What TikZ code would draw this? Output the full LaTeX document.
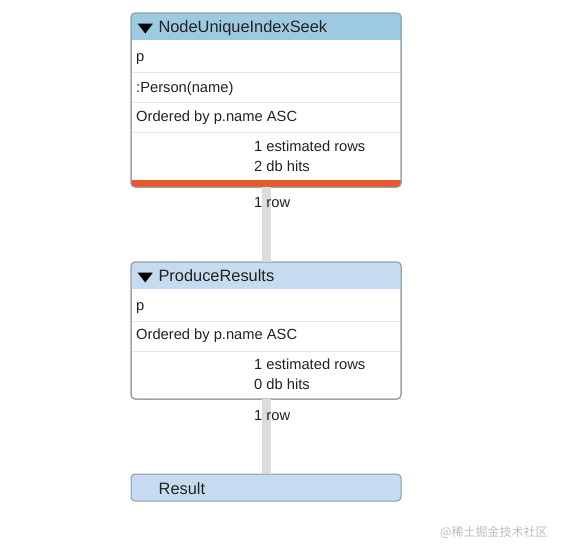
\documentclass[tikz,border=0pt]{standalone}
\usepackage{fontspec}
\setmainfont{Liberation Sans}
\newfontfamily\cjk{Noto Sans CJK SC}
\newfontfamily\symf{DejaVu Sans}
\definecolor{hdrA}{HTML}{9ECAE1}
\definecolor{hdrB}{HTML}{C6DBEF}
\definecolor{bordc}{HTML}{8C9BA5}
\definecolor{sepc}{HTML}{E3E3E3}
\definecolor{barc}{HTML}{E8582A}
\definecolor{connc}{HTML}{DCDCDC}
\definecolor{txtc}{HTML}{222222}
\definecolor{wmc}{HTML}{BDBDBD}
\tikzset{
  opbox/.style={draw=bordc, line width=1pt, rounded corners=4pt, anchor=north west, minimum width=270pt, inner sep=0pt, outer sep=0pt},
  body/.style={anchor=base west, inner sep=0pt, text=txtc, font=\fontsize{14.7}{16}\selectfont},
  head/.style={anchor=base west, inner sep=0pt, text=txtc, font=\fontsize{16.4}{18}\selectfont},
  tri/.style={anchor=base west, inner sep=0pt, text=black, font=\symf\fontsize{13}{14}\selectfont},
  conn/.style={connc, line width=9pt},
  sepline/.style={sepc, line width=1pt},
}
\begin{document}
\begin{tikzpicture}[x=1pt,y=-1pt]
\fill[white] (0,0) rectangle (561,555);
\useasboundingbox (0,0) rectangle (561,555);
% boxes (shapes)
\node[opbox, minimum height=174pt] (op1) at (131,13) {};
\node[opbox, minimum height=137pt] (op2) at (131,262) {};
\node[opbox, minimum height=27pt, fill=hdrB] (res) at (131,474) {};
% header fills and bar
\begin{scope}
\clip[rounded corners=4pt] (op1.north west) rectangle (op1.south east);
\fill[hdrA] (op1.north west) rectangle ([yshift=-27pt]op1.north east);
\fill[barc] ([yshift=7pt]op1.south west) rectangle (op1.south east);
\draw[sepline] (131,72) -- (401,72);
\draw[sepline] (131,102) -- (401,102);
\draw[sepline] (131,132) -- (401,132);
\end{scope}
\begin{scope}
\clip[rounded corners=4pt] (op2.north west) rectangle (op2.south east);
\fill[hdrB] (op2.north west) rectangle ([yshift=-27pt]op2.north east);
\draw[sepline] (131,321) -- (401,321);
\draw[sepline] (131,351) -- (401,351);
\end{scope}
\draw[draw=bordc, line width=1pt, rounded corners=4pt] (op1.north west) rectangle (op1.south east);
\draw[draw=bordc, line width=1pt, rounded corners=4pt] (op2.north west) rectangle (op2.south east);
% connectors
\draw[conn] (op1.south) -- (op2.north);
\draw[conn] (op2.south) -- (res.north);
% texts box 1
\node[tri] (tr1) at (137.5,32.3) {\scalebox{1.55}[1]{▼}};
\node[head] (h1) at (158.3,32.3) {NodeUniqueIndexSeek};
\node[body] (t11) at (136,61.7) {p};
\node[body] (t12) at (136,92.3) {:Person(name)};
\node[body] (t13) at (136,121.7) {Ordered by p.name ASC};
\node[body] (t14) at (254,151.7) {1 estimated rows};
\node[body] (t15) at (254,171.7) {2 db hits};
% connector labels
\node[body] (r1) at (254,207.7) {1 row};
% texts box 2
\node[tri] (tr2) at (137.5,281.7) {\scalebox{1.55}[1]{▼}};
\node[head] (h2) at (158.3,281.7) {ProduceResults};
\node[body] (t21) at (136,310) {p};
\node[body] (t22) at (136,339) {Ordered by p.name ASC};
\node[body] (t23) at (254,369.3) {1 estimated rows};
\node[body] (t24) at (254,389.3) {0 db hits};
\node[body] (r2) at (254,420) {1 row};
% result
\node[head] (rt) at (158.5,494) {Result};
% watermark
\node[anchor=base west, inner sep=0pt, text=wmc, font=\cjk\fontsize{12}{14}\selectfont] (wm) at (440,536) {@稀土掘金技术社区};
\end{tikzpicture}
\end{document}
